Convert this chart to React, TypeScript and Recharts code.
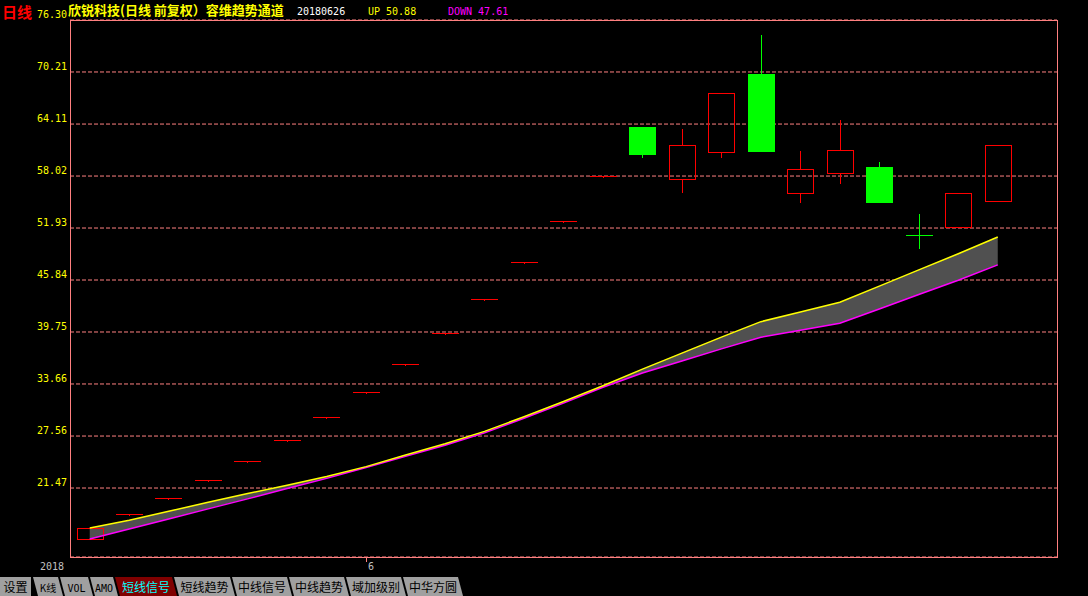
import React from "react";
import { ComposedChart, Bar, Line, Area, XAxis, YAxis, CartesianGrid } from "recharts";

// 欣锐科技 日线, 前复权
const dates = [
  "20180523", "20180524", "20180525", "20180528", "20180529", "20180530", "20180531",
  "20180601", "20180604", "20180605", "20180606", "20180607", "20180608", "20180611",
  "20180612", "20180613", "20180614", "20180615", "20180619", "20180620", "20180621",
  "20180622", "20180625", "20180626",
];
const opens = [15.52, 18.48, 20.33, 22.36, 24.6, 27.06, 29.77, 32.75, 36.02, 39.62, 43.58, 47.94, 52.73, 58.0, 63.8, 57.68, 60.84, 69.98, 56.04, 58.38, 59.08, 51.12, 52.06, 55.1];
const highs = [16.8, 18.48, 20.33, 22.36, 24.6, 27.06, 29.77, 32.75, 36.02, 39.62, 43.58, 47.94, 52.73, 58.0, 63.8, 63.53, 67.75, 74.54, 60.96, 64.59, 59.67, 53.58, 56.04, 61.66];
const lows = [15.52, 18.48, 20.33, 22.36, 24.6, 27.06, 29.77, 32.75, 36.02, 39.62, 43.58, 47.94, 52.73, 58.0, 60.14, 56.04, 60.14, 60.96, 54.87, 57.09, 54.98, 49.48, 52.06, 55.1];
const closes = [16.8, 18.48, 20.33, 22.36, 24.6, 27.06, 29.77, 32.75, 36.02, 39.62, 43.58, 47.94, 52.73, 58.0, 60.61, 61.66, 67.75, 60.96, 58.85, 61.07, 54.98, 51.12, 56.04, 61.66];

// 容维趋势通道
const ups = [16.8, 17.7, 18.74, 19.81, 20.82, 21.8, 22.81, 23.98, 25.33, 26.66, 28.11, 29.82, 31.6, 33.46, 35.4, 37.28, 39.15, 40.96, 42.08, 43.24, 45.12, 47.03, 48.92, 50.88];
const downs = [15.5, 16.66, 17.85, 19.03, 20.2, 21.41, 22.6, 23.87, 25.18, 26.49, 27.93, 29.64, 31.42, 33.27, 34.94, 36.35, 37.77, 39.14, 39.95, 40.78, 42.45, 44.14, 45.81, 47.61];

const yTicks = [21.47, 27.56, 33.66, 39.75, 45.84, 51.93, 58.02, 64.11, 70.21, 76.3];
const Y_MIN = 13.39;
const Y_MAX = 76.3;

const tabLabels = ["K线", "VOL", "AMO", "短线信号", "短线趋势", "中线信号", "中线趋势", "域加级别", "中华方圆"];
const tabEdges = [
  [33, 58], [60, 88], [90, 113], [115, 172], [174, 230],
  [232, 287], [289, 344], [346, 401], [403, 458],
];
const ACTIVE_TAB = 3;

const data = dates.map((date, i) => ({
  date,
  open: opens[i],
  high: highs[i],
  low: lows[i],
  close: closes[i],
  prevClose: i > 0 ? closes[i - 1] : opens[i],
  up: ups[i],
  down: downs[i],
}));

const MONO = "DejaVu Sans Mono";
const CJK = "Noto Sans CJK SC";

const Candle = (props: any) => {
  const { x, y, width, height, payload } = props;
  if (x == null || !payload) return <g />;
  const { open, close, high, low, prevClose } = payload;
  const span = high - Y_MIN;
  const py = (v: number) => y + ((high - v) / span) * height;
  const cx = Math.floor(x + width / 2);
  const half = 13;
  const rising = close > open || (close === open && close >= prevClose);
  const color = rising ? "#ff0000" : "#00ff00";
  const top = Math.round(py(Math.max(open, close)));
  const bot = Math.round(py(Math.min(open, close)));
  const yh = Math.round(py(high));
  const yl = Math.round(py(low));

  // draw everything as filled 1px rects so colours stay solid
  const vline = (y1: number, y2: number) => (
    <rect x={cx} y={y1} width={1} height={Math.max(1, y2 - y1)} fill={color} />
  );
  const hline = (yy: number) => <rect x={cx - half} y={yy} width={half * 2 + 1} height={1} fill={color} />;

  if (bot - top < 1) {
    // 一字线 / 十字星
    return (
      <g shapeRendering="crispEdges">
        {vline(Math.min(yh, top), Math.max(yl, top + 2))}
        {hline(top)}
      </g>
    );
  }
  if (rising) {
    return (
      <g shapeRendering="crispEdges">
        {yh < top && vline(yh, top)}
        {yl > bot && vline(bot, yl)}
        {hline(top)}
        {hline(bot)}
        <rect x={cx - half} y={top} width={1} height={bot - top + 1} fill={color} />
        <rect x={cx + half} y={top} width={1} height={bot - top + 1} fill={color} />
      </g>
    );
  }
  return (
    <g shapeRendering="crispEdges">
      {vline(yh, yl)}
      <rect x={cx - half} y={top} width={half * 2 + 1} height={bot - top + 1} fill={color} />
    </g>
  );
};

const PriceTick = (props: any) => {
  const { x, y, payload } = props;
  return (
    <text x={x} y={y - 2} textAnchor="end" fill="#ffff00" fontSize={10} fontFamily={MONO}>
      {Number(payload.value).toFixed(2)}
    </text>
  );
};

const MonthTick = (props: any) => {
  const { x, y, payload } = props;
  if (payload.value !== "20180601") return <g />;
  const tx = Math.floor(x) + 0.5;
  return (
    <g>
      <line x1={tx} x2={tx} y1={y} y2={y + 5} stroke="#ff8080" />
      <text x={tx + 1.5} y={y + 12.5} fill="#c0c0c0" fontSize={10} fontFamily={MONO}>
        6
      </text>
    </g>
  );
};

export default function App() {
  const last = data[data.length - 1];
  const T = 577;
  const B = 596;
  return (
    <div style={{ position: "absolute", left: 0, top: 0, width: 1088, height: 596, background: "#000", overflow: "hidden" }}>
      <ComposedChart width={1088} height={596} data={data} margin={{ top: 20, right: 31, bottom: 19, left: 0 }}>
        <CartesianGrid horizontal vertical={false} stroke="#ff8080" strokeDasharray="4 2" />
        <XAxis
          dataKey="date"
          height={20}
          padding={{ left: 0, right: 39.5 }}
          axisLine={false}
          tickLine={false}
          tickSize={0}
          tickMargin={0}
          interval={0}
          tick={<MonthTick />}
        />
        <YAxis
          type="number"
          domain={[Y_MIN, Y_MAX]}
          ticks={yTicks}
          allowDataOverflow
          width={70}
          axisLine={false}
          tickLine={false}
          tickSize={0}
          tickMargin={3}
          tick={<PriceTick />}
        />
        <Area
          type="linear"
          dataKey={(d: any) => [d.down, d.up]}
          fill="#505050"
          fillOpacity={1}
          stroke="none"
          isAnimationActive={false}
        />
        <Line type="linear" dataKey="down" stroke="#ff00ff" strokeWidth={1.5} dot={false} isAnimationActive={false} />
        <Line type="linear" dataKey="up" stroke="#ffff00" strokeWidth={1.5} dot={false} isAnimationActive={false} />
        <Bar dataKey={(d: any) => [Y_MIN, d.high]} barSize={26} shape={Candle} isAnimationActive={false} />
      </ComposedChart>

      <svg width={1088} height={596} style={{ position: "absolute", left: 0, top: 0, pointerEvents: "none" }}>
        <rect x={70.5} y={20.5} width={987} height={537} fill="none" stroke="#ff8080" />
        <text x={2} y={17.5} fill="#ff0000" fontSize={15} fontWeight="bold" fontFamily={CJK}>
          日线
        </text>
        <text x={68} y={15} fill="#ffff00" fontSize={13} fontWeight="bold" fontFamily={CJK}>
          欣锐科技(日线 前复权）容维趋势通道
        </text>
        <text x={297} y={15} fill="#ffffff" fontSize={10} fontFamily={MONO}>
          {last.date}
        </text>
        <text x={368} y={15} fill="#ffff00" fontSize={10} fontFamily={MONO}>
          {`UP ${last.up.toFixed(2)}`}
        </text>
        <text x={448} y={15} fill="#ff00ff" fontSize={10} fontFamily={MONO}>
          {`DOWN ${last.down.toFixed(2)}`}
        </text>
        <text x={40} y={569.5} fill="#c0c0c0" fontSize={10} fontFamily={MONO}>
          2018
        </text>

        <rect x={0} y={T} width={31} height={B - T} fill="#a0a0a0" />
        <text x={15.5} y={592} textAnchor="middle" fill="#000" fontSize={12} fontFamily={CJK}>
          设置
        </text>
        {tabLabels.map((label, i) => {
          const [x0, x1] = tabEdges[i];
          const active = i === ACTIVE_TAB;
          const ascii = /^[A-Z]/.test(label);
          return (
            <g key={label}>
              <polygon
                points={`${x0},${T} ${x1},${T} ${x1 + 5},${B} ${x0 + 5},${B}`}
                fill={active ? "#800000" : "#a0a0a0"}
              />
              <text
                x={(x0 + x1) / 2 + 2.5}
                y={591.5}
                textAnchor="middle"
                fill={active ? "#00ffff" : "#000"}
                fontSize={ascii ? 10 : 12}
                fontFamily={ascii && label !== "K线" ? MONO : CJK}
              >
                {label}
              </text>
            </g>
          );
        })}
      </svg>
    </div>
  );
}
